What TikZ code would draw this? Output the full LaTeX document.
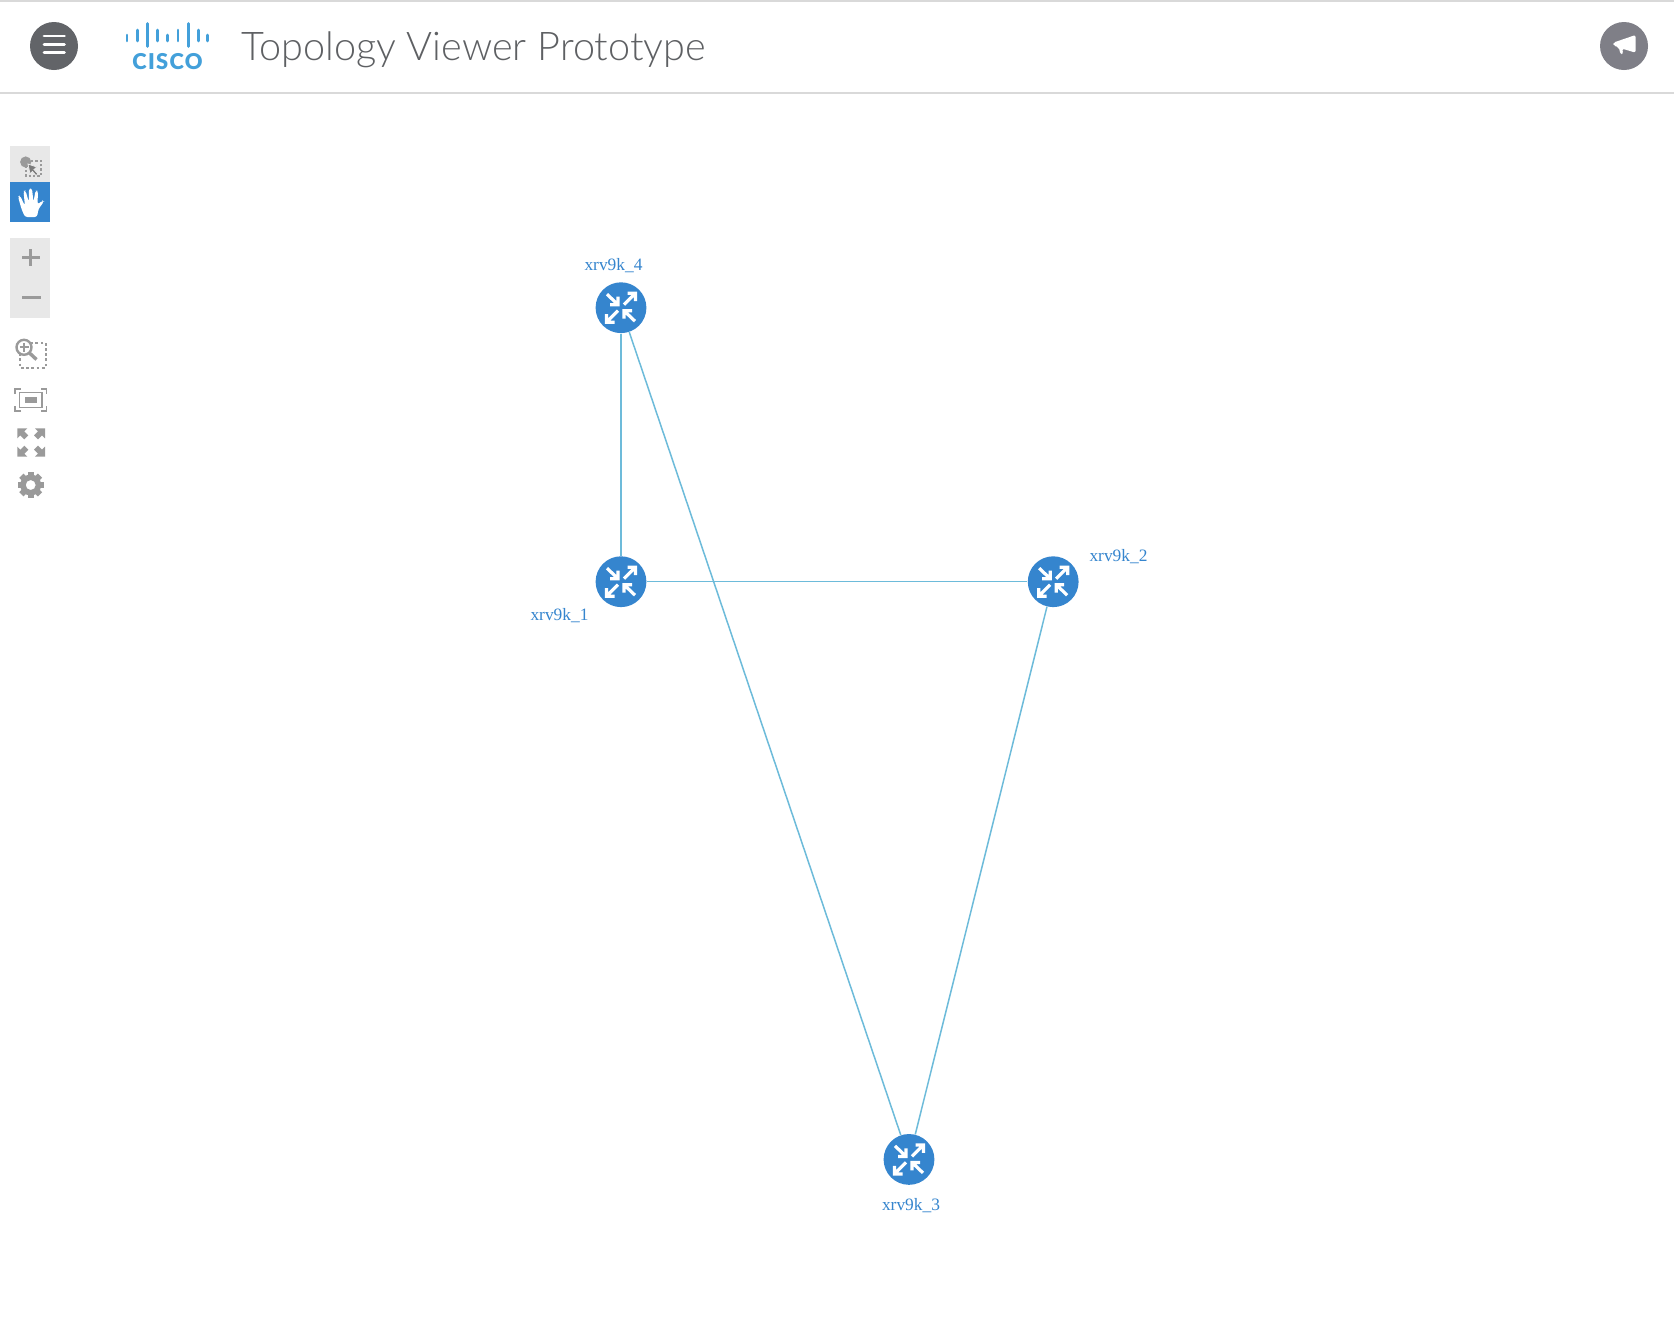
\documentclass[tikz,border=0pt]{standalone}
\usepackage{fontspec}
\setmainfont{Liberation Serif}
\newfontfamily\titlefont{Lato Light}
\newfontfamily\logofont[LetterSpace=6]{Lato Black}
\definecolor{nodeblue}{HTML}{3585CE}
\definecolor{linkblue}{HTML}{6DBBDA}
\definecolor{ciscoblue}{HTML}{43A0DA}
\definecolor{menugray}{HTML}{626468}
\definecolor{notegray}{HTML}{7F7F87}
\definecolor{rulegray}{HTML}{D9D9D9}
\definecolor{panelgray}{HTML}{E8E8E8}
\definecolor{icongray}{HTML}{9A9A9A}
\definecolor{titlegray}{HTML}{5E6063}
\tikzset{
  routericon/.pic={
    \draw[white,line width=1.6pt] (-14,-13.5)--(-3,-3) (-3,-11)--(-3,-3)--(-11,-3);
    \draw[white,line width=1.6pt] (14,13.5)--(3,3) (3,11)--(3,3)--(11,3);
    \draw[white,line width=1.6pt] (3,-3)--(14,-14) (6.5,-14.5)--(14.5,-14.5)--(14.5,-6.5);
    \draw[white,line width=1.6pt] (-3,3)--(-14,14) (-6.5,14.5)--(-14.5,14.5)--(-14.5,6.5);
  },
  router/.style={circle,fill=nodeblue,draw=none,minimum size=25.4pt,inner sep=0pt},
  link/.style={draw=linkblue,line width=0.75pt},
  hostlabel/.style={text=nodeblue,font=\fontsize{8.7}{10}\selectfont,anchor=base,inner sep=0pt},
  panel/.style={fill=panelgray,draw=none},
  toolfill/.style={fill=icongray,draw=none},
  hamburger/.style={draw=white,line width=1.4pt,line cap=round},
  headerrule/.style={fill=rulegray,draw=none},
  logobar/.style={draw=ciscoblue,line width=1.3pt,line cap=round},
}
\begin{document}
\begin{tikzpicture}[x=0.5pt,y=-0.5pt]
\useasboundingbox (0,0) rectangle (1674,1330);
\fill[white] (0,0) rectangle (1674,1330);
% header
\fill[headerrule] (0,0) rectangle (1674,2);
\fill[headerrule] (0,92) rectangle (1674,94);
\node[circle,fill=menugray,minimum size=24pt,inner sep=0pt] (menu) at (54,46) {};
\draw[hamburger] (44,36)--(64.5,36) (44,44.5)--(64.5,44.5) (44,52.7)--(64.5,52.7);
% logo
\foreach \x/\a/\b in {127/35/41,137.3/30/41,147.3/23.5/46.5,157.3/30/41,167.5/35/41,178/30/41,188.3/23.5/46.5,198.3/30/41,207.3/35/41}
  \draw[logobar] (\x,\a)--(\x,\b);
\node[text=ciscoblue,font=\logofont\fontsize{10.9}{12}\selectfont,anchor=base,inner sep=0pt] (logotext) at (167.5,69) {CISCO};
\node[text=titlegray,font=\titlefont\fontsize{19.78}{22}\selectfont,anchor=base west,inner sep=0pt] (title) at (241,60) {Topology Viewer Prototype};
\node[circle,fill=notegray,minimum size=24pt,inner sep=0pt] (notify) at (1624,46) {};
\begin{scope}[shift={(1590.5,10)},x=0.1667pt,y=-0.1667pt]
\fill[white,rounded corners=1pt] (68,98)--(135,75)--(135,128)--(95,116)--(98,131)--(90,133)--(85,112)--(68,106)--cycle;
\end{scope}
% toolbar
\fill[panel] (10,146) rectangle (50,182);
\fill[nodeblue] (10,182) rectangle (50,222);
\fill[panel] (10,238) rectangle (50,318);
% select icon
\draw[icongray,line width=0.7pt,dash pattern=on 1.2pt off 1pt] (26,161) rectangle (41,176);
\fill[icongray] (25.7,162) circle[radius=5.6];
\fill[icongray!80!black,draw=panelgray,line width=0.4pt] (28,164)--(37,167)--(34,169.5)--(38,174)--(36,175.5)--(32.5,171.5)--(30,174)--cycle;
% hand icon
\fill[white,rounded corners=1.2pt] (25,217)--(37,217)--(38.5,209)--(44,201.5)--(42.5,200.5)--(37.5,204.5)--(38,191)--(35.5,190.5)--(33.5,202)--(32,188.5)--(29,188.5)--(28.8,202)--(25.5,190.5)--(23.5,191)--(25,206)--(20,195.5)--(18,196.5)--(21.5,209)--cycle;
% plus and minus
\fill[toolfill] (22,255.5) rectangle (39.5,258.5);
\fill[toolfill] (29,248.5) rectangle (32,265.5);
\fill[toolfill] (22,295.5) rectangle (41,298.5);
% zoom by selection icon
\draw[icongray,line width=0.8pt,dash pattern=on 1.4pt off 1.2pt] (20,342.7) rectangle (45.7,367.7);
\draw[icongray,fill=white,line width=1.2pt] (24,347.3) circle[radius=7.5];
\draw[icongray,line width=1.7pt] (29.5,353)--(36.5,359.5);
\draw[icongray,line width=1pt] (19.5,347.3)--(28.5,347.3) (24,342.8)--(24,351.8);
% fit icon
\draw[icongray,line width=0.6pt] (15,394)--(15,389)--(21,389) (41,389)--(46.5,389)--(46.5,394) (46.5,406)--(46.5,411)--(41,411) (21,411)--(15,411)--(15,406);
\draw[icongray,line width=0.6pt] (19.5,392.5) rectangle (42,407.5);
\fill[toolfill] (25,396.7) rectangle (36.7,402.7);
% full screen icon
\foreach \cx/\cy/\sx/\sy in {17.3/428.3/1/1,45/428.3/-1/1,17.3/456.7/1/-1,45/456.7/-1/-1}
  \fill[toolfill,shift={(\cx,\cy)},xscale=\sx,yscale=\sy] (0,0)--(10,0)--(7,3)--(11,7)--(7,11)--(3,7)--(0,10)--cycle;
% gear icon
\fill[toolfill,even odd rule] (30.7,485) circle[radius=5]
  (30.7,485) circle[radius=10.5];
\foreach \a in {0,45,...,315}
  \fill[toolfill,shift={(30.7,485)},rotate=\a] (-3,-9.5) rectangle (3,-13.2);
% routers
\node[router] (n4) at (621,307.7) {};
\node[router] (n1) at (621,581.7) {};
\node[router] (n2) at (1053.2,581.7) {};
\node[router] (n3) at (909,1159.4) {};
\foreach \n in {n1,n2,n3,n4} \pic at (\n) {routericon};
% links
\path[link] (n4)--(n1);
\path[link] (n4)--(n3);
\path[link] (n1)--(n2);
\path[link] (n2)--(n3);
% labels
\node[hostlabel] (l4) at (613.5,270) {xrv9k\_4};
\node[hostlabel] (l1) at (559.5,620) {xrv9k\_1};
\node[hostlabel] (l2) at (1118.5,561.5) {xrv9k\_2};
\node[hostlabel] (l3) at (911,1210.5) {xrv9k\_3};
\end{tikzpicture}
\end{document}
